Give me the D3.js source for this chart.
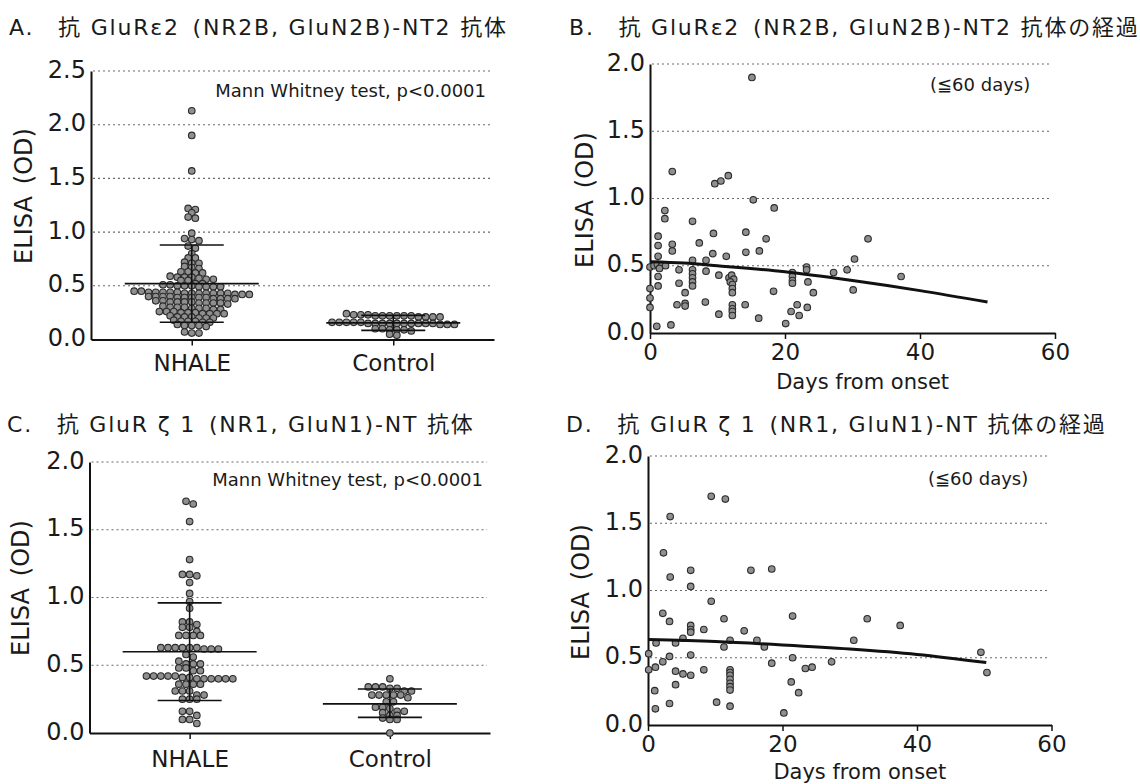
<!DOCTYPE html>
<html>
<head>
<meta charset="utf-8">
<script src="https://cdn.jsdelivr.net/npm/d3@7"></script>
<style>
  body { margin: 0; background: #fff; }
  text { font-family: "DejaVu Sans", "Noto Sans CJK JP", sans-serif; fill: #1a1a1a; }
</style>
</head>
<body>
<svg id="chart" width="1140" height="784"></svg>
<script>
// values
const groups = ['NHALE', 'Control']
const od_ticks_a = [0, 0.5, 1.0, 1.5, 2.0, 2.5]
const od_ticks = [0, 0.5, 1.0, 1.5, 2.0]
const day_ticks = [0, 20, 40, 60]

// A. anti GluRe2 (NR2B) NT2
const nr2b_nhale = [2.13, 1.90, 1.57,
    1.22, 1.21, 1.18, 1.14, 1.13,
    0.99, 0.94, 0.93, 0.92, 0.87, 0.85, 0.80, 0.76, 0.76,
    0.72, 0.71, 0.71, 0.68, 0.67, 0.66,
    0.63, 0.63, 0.62, 0.62,
    0.59, 0.58, 0.58, 0.58, 0.57,
    0.56, 0.56, 0.55, 0.55,
    0.52, 0.52, 0.51, 0.50, 0.50, 0.50, 0.49, 0.49, 0.49, 0.49, 0.51,
    0.45, 0.45, 0.44, 0.44, 0.44, 0.44, 0.44, 0.43, 0.43, 0.43, 0.43, 0.43, 0.43, 0.43, 0.42, 0.42, 0.42,
    0.40, 0.40, 0.40, 0.40, 0.39, 0.39, 0.39, 0.39, 0.39, 0.38, 0.38, 0.38, 0.38,
    0.36, 0.36, 0.35, 0.35, 0.35, 0.35, 0.34, 0.34, 0.34, 0.34, 0.33,
    0.31, 0.30, 0.30, 0.30, 0.29, 0.29, 0.29, 0.28, 0.28,
    0.26, 0.26, 0.26, 0.25, 0.25, 0.25, 0.24, 0.24, 0.24, 0.24,
    0.22, 0.21, 0.21, 0.21, 0.20, 0.20, 0.20,
    0.18, 0.17, 0.17, 0.17, 0.16, 0.16,
    0.14, 0.13, 0.13, 0.13, 0.12,
    0.07, 0.06, 0.06]
const nr2b_control = [0.24, 0.23, 0.23, 0.22, 0.22, 0.22, 0.21, 0.21, 0.21, 0.22, 0.23, 0.22, 0.21, 0.22,
    0.16, 0.16, 0.15, 0.15, 0.15, 0.14, 0.15, 0.16, 0.15, 0.14, 0.15, 0.16, 0.15, 0.14, 0.15, 0.16, 0.15, 0.15,
    0.10, 0.09, 0.09, 0.08, 0.09, 0.10,
    0.05, 0.04]
const nr2b_mean = [0.52, 0.155]
const nr2b_sd_lo = [0.16, 0.085]
const nr2b_sd_hi = [0.88, 0.225]

// B. NR2B course, [days from onset, OD]
const nr2b_course = [
    [15.1, 1.90], [3.3, 1.20], [9.6, 1.11], [10.5, 1.13], [11.6, 1.17], [15.3, 0.99], [18.4, 0.93],
    [2.2, 0.91], [2.2, 0.85], [6.3, 0.83], [14.2, 0.75], [9.4, 0.74], [7.3, 0.67], [17.2, 0.70], [32.3, 0.70],
    [1.2, 0.72], [1.2, 0.65], [3.3, 0.66], [3.3, 0.61], [16.2, 0.61], [14.2, 0.60], [9.3, 0.59], [11.3, 0.57], [1.2, 0.57],
    [30.3, 0.55], [6.3, 0.54], [8.3, 0.54],
    [0.0, 0.49], [0.6, 0.50], [1.1, 0.51], [1.7, 0.50], [2.3, 0.50], [1.4, 0.48],
    [4.3, 0.47], [8.3, 0.46],
    [6.3, 0.47], [6.3, 0.44], [6.3, 0.41], [6.3, 0.38], [6.3, 0.35],
    [23.2, 0.49], [23.2, 0.47], [27.2, 0.45], [29.2, 0.47], [37.2, 0.42],
    [10.2, 0.43], [1.2, 0.42],
    [11.7, 0.41], [12.1, 0.43], [12.4, 0.40], [11.9, 0.38], [12.2, 0.36], [12.2, 0.33], [12.2, 0.30],
    [21.1, 0.45], [21.1, 0.42], [21.1, 0.39], [21.1, 0.37], [23.4, 0.38],
    [4.3, 0.37], [1.2, 0.35], [0.0, 0.33], [30.1, 0.32], [18.3, 0.31], [5.2, 0.30], [24.2, 0.30],
    [0.0, 0.26], [8.2, 0.23], [5.2, 0.22], [5.2, 0.20], [4.0, 0.21], [14.1, 0.21],
    [12.2, 0.21], [12.2, 0.18], [12.2, 0.16], [12.2, 0.13],
    [21.8, 0.21], [23.3, 0.19], [20.9, 0.16], [22.1, 0.13], [10.2, 0.14], [0.0, 0.19],
    [16.1, 0.11], [20.1, 0.07], [1.0, 0.05], [3.1, 0.06]
]
const nr2b_fit = [[0, 0.53], [5, 0.52], [10, 0.50], [20, 0.455], [30, 0.39], [40, 0.315], [50, 0.23]]

// C. anti GluRz1 (NR1) NT
const nr1_nhale = [1.71, 1.69, 1.56, 1.28, 1.17, 1.17, 1.16, 1.11, 1.03, 0.97, 0.92,
    0.82, 0.82, 0.80, 0.78, 0.78, 0.75, 0.72, 0.72, 0.72, 0.72,
    0.63, 0.63, 0.63, 0.63, 0.63, 0.63, 0.62, 0.62, 0.62,
    0.58, 0.56, 0.53, 0.51, 0.51, 0.51, 0.48, 0.48, 0.46, 0.46,
    0.42, 0.42, 0.42, 0.42, 0.42, 0.41, 0.41, 0.40, 0.40, 0.40, 0.40, 0.40, 0.40,
    0.36, 0.36, 0.36, 0.36, 0.31, 0.31, 0.31, 0.28, 0.28, 0.25, 0.25, 0.25,
    0.16, 0.16, 0.13, 0.10, 0.10, 0.07]
const nr1_control = [0.40, 0.34, 0.34, 0.34, 0.33, 0.33, 0.31, 0.31,
    0.28, 0.28, 0.28, 0.28, 0.28, 0.26, 0.23, 0.23,
    0.19, 0.19, 0.18, 0.16, 0.16, 0.15, 0.13, 0.13,
    0.11, 0.10, 0.10, 0.00]
const nr1_mean = [0.60, 0.215]
const nr1_sd_lo = [0.24, 0.115]
const nr1_sd_hi = [0.96, 0.325]

// D. NR1 course
const nr1_course = [
    [9.4, 1.70], [11.5, 1.68], [3.3, 1.55], [2.3, 1.28], [3.3, 1.10], [6.35, 1.15], [6.35, 1.03], [15.3, 1.15], [18.4, 1.16],
    [9.4, 0.92], [2.2, 0.83], [3.2, 0.77], [11.3, 0.79], [21.5, 0.81], [32.6, 0.79], [37.5, 0.74],
    [6.35, 0.74], [6.35, 0.71], [6.35, 0.69], [8.3, 0.71], [14.3, 0.70], [30.6, 0.63],
    [5.2, 0.645], [1.2, 0.61], [4.1, 0.61], [12.2, 0.63], [16.2, 0.63], [11.3, 0.58], [17.3, 0.58],
    [0.1, 0.53], [6.35, 0.52], [3.2, 0.51], [2.2, 0.47], [21.5, 0.50], [49.5, 0.54], [27.3, 0.47], [18.4, 0.46],
    [0.1, 0.41], [1.1, 0.43], [4.1, 0.40], [5.2, 0.38], [6.35, 0.37], [8.3, 0.41], [23.4, 0.42], [24.4, 0.43], [50.4, 0.39],
    [12.2, 0.41], [12.2, 0.39], [12.2, 0.37], [12.2, 0.34], [12.2, 0.31], [12.2, 0.285], [12.2, 0.26],
    [4.1, 0.30], [21.3, 0.32], [22.4, 0.24], [1.0, 0.255], [3.2, 0.16], [12.2, 0.14], [10.2, 0.17], [1.1, 0.12], [20.2, 0.09]
]
const nr1_fit = [[0, 0.635], [10, 0.62], [20, 0.595], [30, 0.565], [40, 0.525], [50.3, 0.465]]

const svg = d3.select('#chart')
const dot_fill = '#8f8f8f'
const dot_stroke = '#2b2b2b'
const font_tick = 24

// Prism-like dot rows: values that fall within row_h pixels share a row, spread around the centre
const make_rows = (values, y, row_h, step) => {
    const sorted = values.slice().sort((a, b) => b - a)
    const out = []
    let row = []
    let start = null
    const flush = () => {
        row.forEach((v, i) => out.push({ v: v, dx: (i - (row.length - 1) / 2) * step }))
        row = []
    }
    sorted.forEach(v => {
        if (start === null || y(v) - y(start) >= row_h) {
            flush()
            start = v
        }
        row.push(v)
    })
    flush()
    return out
}

const draw_title = (txt, x, y) => {
    svg.append('text').attr('x', x).attr('y', y)
        .attr('font-size', 22).attr('letter-spacing', 1.8)
        .text(txt)
}

const draw_ylabel = (x, y) => {
    svg.append('text')
        .attr('transform', 'translate(' + x + ',' + y + ') rotate(-90)')
        .attr('text-anchor', 'middle').attr('dominant-baseline', 'central')
        .attr('font-size', 24)
        .text('ELISA\u2002(OD)')
}

const draw_yaxis = (y, ticks, x0, grid_end) => {
    svg.append('g').selectAll('line')
        .data(ticks.filter(t => t > 0))
        .join('line')
        .attr('x1', x0 + 2).attr('x2', grid_end)
        .attr('y1', d => y(d)).attr('y2', d => y(d))
        .attr('stroke', '#6a6a6a').attr('stroke-width', 1.1)
        .attr('stroke-dasharray', '2,3')

    const ax = svg.append('g').attr('transform', 'translate(' + x0 + ',0)')
        .call(d3.axisLeft(y).tickValues(ticks).tickFormat(d3.format('.1f')).tickSize(0).tickSizeOuter(0).tickPadding(5))
    ax.select('.domain').attr('stroke', '#111').attr('stroke-width', 2)
    ax.selectAll('text').attr('font-size', font_tick).attr('font-family', 'DejaVu Sans').attr('fill', '#1a1a1a').attr('dy', '0.25em')
}

const draw_dot_panel = (p) => {
    const x = d3.scalePoint().domain(groups).range([p.x0, p.x1]).padding(0.5)
    const y = d3.scaleLinear().domain([0, p.ymax]).range([p.y0, p.y1])

    draw_title(p.title, p.tx, p.ty)
    draw_ylabel(p.lx, p.ly)
    draw_yaxis(y, p.ticks, p.x0, p.grid_end)

    const xa = svg.append('g').attr('transform', 'translate(0,' + p.y0 + ')')
        .call(d3.axisBottom(x).tickSize(6).tickSizeOuter(0).tickPadding(p.pad))
    xa.select('.domain').attr('stroke', '#111').attr('stroke-width', 2)
    xa.selectAll('.tick line').attr('stroke', '#111').attr('stroke-width', 1.5)
    xa.selectAll('text').attr('font-size', 23).attr('font-family', 'DejaVu Sans').attr('fill', '#1a1a1a')

    p.series.forEach((vals, i) => {
        const pts = make_rows(vals, y, p.row_h, 7.2)
        svg.append('g').selectAll('circle')
            .data(pts)
            .join('circle')
            .attr('cx', d => x(groups[i]) + d.dx)
            .attr('cy', d => y(d.v))
            .attr('r', 3.3)
            .attr('fill', dot_fill)
            .attr('stroke', dot_stroke)
            .attr('stroke-width', 1.1)
    })

    const g = svg.append('g').attr('stroke', '#111')
    groups.forEach((grp, i) => {
        const cx = x(grp)
        g.append('line').attr('x1', cx).attr('x2', cx).attr('y1', y(p.lo[i])).attr('y2', y(p.hi[i])).attr('stroke-width', 1.6)
        g.append('line').attr('x1', cx - 67).attr('x2', cx + 67).attr('y1', y(p.mean[i])).attr('y2', y(p.mean[i])).attr('stroke-width', 1.6)
        g.append('line').attr('x1', cx - 32).attr('x2', cx + 32).attr('y1', y(p.hi[i])).attr('y2', y(p.hi[i])).attr('stroke-width', 1.6)
        g.append('line').attr('x1', cx - 32).attr('x2', cx + 32).attr('y1', y(p.lo[i])).attr('y2', y(p.lo[i])).attr('stroke-width', 1.6)
    })

    svg.append('text').attr('x', p.note_x).attr('y', p.note_y)
        .attr('text-anchor', 'end').attr('font-size', 18)
        .text('Mann Whitney test, p<0.0001')
}

const draw_course_panel = (p) => {
    const x = d3.scaleLinear().domain([0, 60]).range([p.x0, p.x1])
    const y = d3.scaleLinear().domain([0, 2]).range([p.y0, p.y1])

    draw_title(p.title, p.tx, p.ty)
    draw_ylabel(p.lx, p.ly)
    draw_yaxis(y, od_ticks, p.x0, p.grid_end)

    const xa = svg.append('g').attr('transform', 'translate(0,' + p.y0 + ')')
        .call(d3.axisBottom(x).tickValues(day_ticks).tickSize(6).tickSizeOuter(0).tickPadding(5))
    xa.select('.domain').attr('stroke', '#111').attr('stroke-width', 2)
    xa.selectAll('.tick line').attr('stroke', '#111').attr('stroke-width', 1.5)
    xa.selectAll('text').attr('font-size', 23).attr('font-family', 'DejaVu Sans').attr('fill', '#1a1a1a')

    svg.append('text').attr('x', x(31.5)).attr('y', p.xl_y)
        .attr('text-anchor', 'middle').attr('font-size', 21)
        .text('Days from onset')

    svg.append('g').selectAll('circle')
        .data(p.points)
        .join('circle')
        .attr('cx', d => x(d[0]))
        .attr('cy', d => y(d[1]))
        .attr('r', 3.3)
        .attr('fill', dot_fill)
        .attr('stroke', dot_stroke)
        .attr('stroke-width', 1.1)

    const line = d3.line().x(d => x(d[0])).y(d => y(d[1])).curve(d3.curveMonotoneX)
    svg.append('path').datum(p.fit)
        .attr('d', line)
        .attr('fill', 'none').attr('stroke', '#111').attr('stroke-width', 3)

    svg.append('text').attr('x', p.note_x).attr('y', p.note_y)
        .attr('font-size', 18)
        .text('(\u226660 days)')
}

draw_dot_panel({
    title: 'A.\u2003抗 GluRε2\u2002(NR2B, GluN2B)-NT2 抗体', tx: 9, ty: 35,
    x0: 91, x1: 494, y0: 339.5, y1: 71, ymax: 2.5, ticks: od_ticks_a, grid_end: 491,
    lx: 24, ly: 196, pad: 9, row_h: 4,
    series: [nr2b_nhale, nr2b_control], mean: nr2b_mean, lo: nr2b_sd_lo, hi: nr2b_sd_hi,
    note_x: 486, note_y: 97
})

draw_course_panel({
    title: 'B.\u2003抗 GluRε2\u2002(NR2B, GluN2B)-NT2 抗体の経過', tx: 569, ty: 35,
    x0: 650, x1: 1055, y0: 333, y1: 64, grid_end: 1052,
    lx: 585, ly: 200, points: nr2b_course, fit: nr2b_fit, xl_y: 389,
    note_x: 930, note_y: 91
})

draw_dot_panel({
    title: 'C.\u2003抗 GluR ζ 1\u2002(NR1, GluN1)-NT 抗体', tx: 7, ty: 432,
    x0: 89.5, x1: 490, y0: 733, y1: 462, ymax: 2.0, ticks: od_ticks, grid_end: 487,
    lx: 21, ly: 588, pad: 12, row_h: 5,
    series: [nr1_nhale, nr1_control], mean: nr1_mean, lo: nr1_sd_lo, hi: nr1_sd_hi,
    note_x: 483, note_y: 486
})

draw_course_panel({
    title: 'D.\u2003抗 GluR ζ 1\u2002(NR1, GluN1)-NT 抗体の経過', tx: 566, ty: 432,
    x0: 648, x1: 1051.5, y0: 725, y1: 456, grid_end: 1050,
    lx: 581, ly: 592, points: nr1_course, fit: nr1_fit, xl_y: 779,
    note_x: 928, note_y: 485
})
</script>
</body>
</html>
